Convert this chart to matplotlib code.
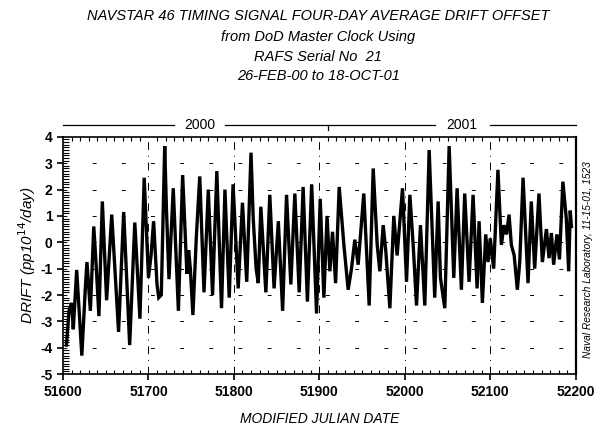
import matplotlib.pyplot as plt
import matplotlib.transforms as mtransforms
from matplotlib.ticker import MultipleLocator

# turning points of the drift trace (MJD, drift)
mjd = [51604, 51607, 51610, 51612, 51616, 51622, 51626, 51628, 51632, 51636,
       51639, 51642, 51646, 51651, 51657, 51665, 51671, 51678, 51684, 51690,
       51695, 51700, 51703, 51706, 51710, 51712, 51715, 51719, 51721, 51724,
       51729, 51735, 51740, 51745, 51747, 51749, 51752, 51756, 51760, 51765,
       51770, 51775, 51780, 51785.5, 51789.5, 51794.5, 51799, 51805, 51810, 51815,
       51820, 51822.6, 51826, 51828.5, 51831.5, 51837.4, 51842, 51847, 51852, 51857,
       51861.6, 51866.6, 51871.3, 51876.4, 51881, 51886, 51891, 51896.7, 51901, 51905.3,
       51909, 51912.3, 51915.4, 51919, 51923.2, 51928.7, 51933.7, 51937.6, 51941.5, 51945.4,
       51952, 51958.3, 51963, 51967.7, 51970.8, 51974.7, 51977.8, 51982.5, 51987.1, 51991,
       51997.3, 52002, 52005.9, 52009.8, 52013.7, 52018.3, 52023.4, 52028.5, 52035, 52039,
       52041.7, 52046.8, 52051.9, 52057.3, 52061.2, 52066.2, 52070.1, 52075.2, 52079.9, 52084.6,
       52086.9, 52090.8, 52094.7, 52097.4, 52100, 52104, 52109, 52113, 52116, 52119,
       52122, 52124.7, 52128, 52131.7, 52134.5, 52138.4, 52144.2, 52148, 52152, 52157,
       52161, 52165.7, 52168.8, 52171.5, 52174.2, 52178, 52181, 52185, 52189, 52191.8,
       52193.6, 52195]
drift = [-3.9, -2.6, -2.3, -3.3, -1.05, -4.3, -1.8, -0.75, -2.6, 0.6,
         -1.0, -2.8, 1.55, -2.2, 1.05, -3.4, 1.15, -3.9, 0.75, -2.9,
         2.45, -1.35, -0.5, 0.8, -1.6, -2.1, -2.0, 3.65, 1.3, -1.4,
         2.05, -2.6, 2.55, -1.2, -0.3, -1.0, -2.76, 0.2, 2.5, -1.9,
         2.0, -2.0, 2.7, -2.5, 2.0, -2.1, 2.2, -1.75, 1.5, -1.5,
         3.4, 0.9, -1.0, -1.55, 1.35, -1.9, 1.8, -1.75, 0.8, -2.6,
         1.8, -1.6, 1.85, -1.9, 2.1, -2.25, 2.2, -2.7, 1.65, -2.1,
         1.0, -1.1, 0.4, -1.55, 2.1, -0.1, -1.8, -1.0, 0.1, -0.85,
         1.85, -2.4, 2.8, -0.1, -1.1, 0.65, -0.35, -2.5, 1.0, -0.5,
         2.05, -1.5, 1.8, -0.1, -2.4, 0.65, -2.4, 3.5, -2.1, 1.55,
         -1.35, -2.5, 3.65, -1.35, 2.05, -1.8, 1.85, -1.5, 1.8, -1.75,
         0.8, -2.3, 0.3, -0.75, 0.15, -1.0, 2.75, -0.1, 0.65, 0.3,
         1.05, -0.1, -0.5, -1.8, -0.75, 2.45, -1.55, 1.55, -1.0, 1.85,
         -0.75, 0.5, -0.6, 0.35, -0.85, 0.3, -0.65, 2.3, 0.9, -1.1,
         1.2, 0.6]

title_lines = ["NAVSTAR 46 TIMING SIGNAL FOUR-DAY AVERAGE DRIFT OFFSET",
               "from DoD Master Clock Using",
               "RAFS Serial No  21",
               "26-FEB-00 to 18-OCT-01"]

plt.rcParams['font.family'] = ['Liberation Sans', 'DejaVu Sans']
plt.rcParams['axes.unicode_minus'] = False

fig = plt.figure(figsize=(6.06, 4.29), dpi=100)
ax = fig.add_axes([0.104, 0.128, 0.846, 0.553])

ax.plot(mjd, drift, color='black', lw=2.4, solid_joinstyle='miter')

ax.set_xlim(51600, 52200)
ax.set_ylim(-5, 4)
ax.xaxis.set_major_locator(MultipleLocator(100))
ax.xaxis.set_minor_locator(MultipleLocator(10))
ax.yaxis.set_major_locator(MultipleLocator(1))
ax.yaxis.set_minor_locator(MultipleLocator(0.1))
ax.tick_params(which='major', direction='out', length=4, width=1.2,
               labelsize=10, top=False, right=False)
ax.tick_params(which='minor', direction='in', length=3, width=0.8,
               top=True, right=False)
ax.tick_params(axis='y', which='minor', length=4)
for lab in ax.get_xticklabels() + ax.get_yticklabels():
    lab.set_fontweight('bold')

for s in ax.spines.values():
    s.set_linewidth(1.2)
ax.spines['right'].set_linewidth(1.6)

# sparse dashed grid like the scan
for gx in [51700, 51800, 51900, 52000, 52100]:
    ax.axvline(gx, color='black', lw=0.7, ls=(0, (8, 6, 1, 6)), zorder=0)
for gy in range(-4, 4):
    ax.axhline(gy, color='black', lw=0.7, ls=(0, (4, 26)), zorder=0)

ax.set_xlabel("MODIFIED JULIAN DATE", fontstyle='italic', fontsize=10, labelpad=10)
ax.set_ylabel(r"DRIFT (pp10$^{\it 14}$/day)", fontstyle='italic', fontsize=11, labelpad=2)

# year band above the plot
trans = mtransforms.blended_transform_factory(ax.transData, ax.transAxes)
yb = 1.05
ax.plot([51600, 51730], [yb, yb], color='black', lw=0.9, transform=trans, clip_on=False)
ax.plot([51790, 52035], [yb, yb], color='black', lw=0.9, transform=trans, clip_on=False)
ax.plot([52100, 52200], [yb, yb], color='black', lw=0.9, transform=trans, clip_on=False)
ax.plot([51910, 51910], [yb, yb - 0.02], color='black', lw=0.9, transform=trans, clip_on=False)
ax.text(51760, yb, "2000", transform=trans, ha='center', va='center', fontsize=10)
ax.text(52067, yb, "2001", transform=trans, ha='center', va='center', fontsize=10)

ys = [0.963, 0.913, 0.868, 0.822]
for t, y in zip(title_lines, ys):
    fig.text(0.525, y, t, ha='center', va='center', fontstyle='italic', fontsize=10.5)

fig.text(0.970, 0.394, "Naval Research Laboratory, 11-15-01, 1523", rotation=90,
         ha='center', va='center', fontstyle='italic', fontsize=7.3)

fig.savefig("out.png", dpi=100)
